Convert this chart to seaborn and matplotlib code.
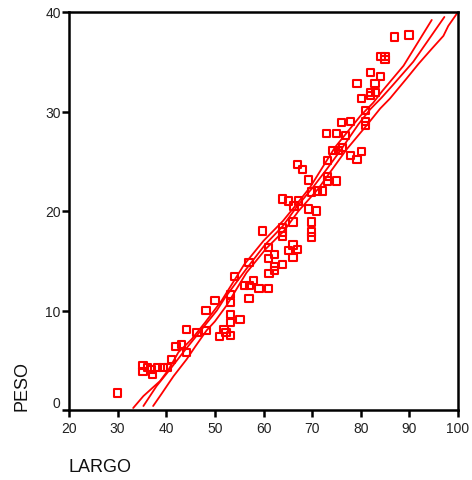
import matplotlib
matplotlib.use("Agg")
import matplotlib.pyplot as plt
import seaborn as sns
import pandas as pd

# ---- data ----
largo = [30.0, 35.2, 35.2, 36.2, 37.2, 37.0, 38.2, 39.3, 40.3, 41.1, 42.0, 43.2, 44.1, 44.1,
         46.3, 48.2, 48.2, 50.0, 50.9, 51.9, 52.3, 53.2, 53.2, 53.2, 53.2, 53.2, 55.2, 57.0,
         54.0, 56.1, 57.1, 58.0, 59.1, 57.0, 61.0, 61.0, 61.1, 62.2, 62.2, 62.2, 63.9, 59.8,
         61.0, 63.9, 63.9, 63.9, 65.1, 66.1, 67.0, 66.1, 66.1, 69.9, 69.9, 69.9, 63.9, 65.2,
         66.3, 67.2, 67.0, 68.0, 69.2, 69.2, 69.9, 70.9, 71.1, 72.2, 73.1, 73.1, 73.1, 75.0,
         74.3, 75.4, 77.9, 79.2, 80.1, 76.2, 73.0, 75.0, 76.9, 76.1, 77.9, 81.0, 81.0, 81.0,
         80.1, 82.0, 82.0, 83.1, 79.2, 82.9, 82.0, 84.0, 84.2, 85.0, 85.0, 87.0, 89.9]
peso = [1.7, 4.5, 3.9, 4.3, 3.6, 4.1, 4.3, 4.3, 4.3, 5.1, 6.4, 6.6, 5.8, 8.1,
        7.8, 8.0, 10.0, 11.0, 7.4, 8.1, 7.8, 7.5, 8.8, 9.6, 10.8, 11.6, 9.1, 11.2,
        13.4, 12.5, 12.5, 13.0, 12.2, 14.8, 12.2, 15.2, 13.7, 15.6, 14.4, 14.0, 14.6, 18.0,
        16.3, 17.5, 17.9, 18.3, 16.0, 16.6, 16.1, 15.3, 18.9, 18.9, 17.9, 17.4, 21.2, 21.0,
        20.5, 21.0, 24.7, 24.2, 20.2, 23.1, 21.9, 20.0, 22.0, 22.0, 25.1, 23.0, 23.5, 23.0,
        26.1, 26.1, 25.6, 25.2, 26.0, 26.4, 27.8, 27.8, 27.6, 28.9, 29.0, 28.6, 29.0, 30.1,
        31.3, 31.6, 31.9, 31.9, 32.8, 32.8, 33.9, 33.5, 35.5, 35.5, 35.2, 37.5, 37.7]

fit_x = [35.3, 38.0, 40.8, 43.5, 46.3, 50.4, 52.1, 56.5, 60.3, 64.0, 66.8, 70.2, 73.0,
         75.7, 79.5, 81.9, 84.3, 86.5, 90.8, 97.2]
fit_y = [0.4, 2.4, 4.1, 5.8, 7.5, 10.0, 11.3, 14.2, 16.6, 18.5, 20.4, 22.4, 24.2,
         26.0, 28.7, 30.2, 31.4, 32.6, 35.0, 39.5]

upper_x = [33.2, 35.3, 38.7, 40.4, 42.5, 45.2, 48.0, 51.4, 56.0, 60.0, 64.0, 67.0,
           69.6, 74.7, 80.0, 82.6, 84.5, 88.8, 94.6]
upper_y = [0.2, 1.4, 2.9, 4.0, 5.8, 7.1, 8.8, 11.0, 14.6, 17.0, 19.0, 20.8,
           22.4, 26.4, 29.6, 30.9, 32.1, 34.6, 39.2]

lower_x = [37.3, 39.0, 40.8, 41.5, 44.2, 46.0, 48.3, 50.0, 52.4, 56.5, 60.5, 64.2, 67.2,
           71.2, 77.1, 81.2, 84.0, 86.0, 89.4, 91.9, 94.6, 97.0, 98.0, 100.0]
lower_y = [0.4, 1.6, 2.9, 3.4, 5.1, 6.4, 8.0, 8.9, 10.5, 13.8, 16.2, 18.0, 20.0,
           22.2, 26.2, 28.6, 30.3, 31.3, 33.3, 34.8, 36.3, 37.6, 38.6, 40.0]

x_ticks = [20, 30, 40, 50, 60, 70, 80, 90, 100]
y_ticks = [0, 10, 20, 30, 40]

# ---- figure ----
sns.set_style("white")
plt.rcParams["font.family"] = ["Liberation Sans", "DejaVu Sans"]

fig = plt.figure(figsize=(4.72, 4.81), dpi=100)
ax = fig.add_axes([69 / 472, 70 / 481, 389 / 472, 398 / 481])

red = "#ff0000"
for lx, ly in [(upper_x, upper_y), (fit_x, fit_y), (lower_x, lower_y)]:
    sns.lineplot(data=pd.DataFrame({"x": lx, "y": ly}), x="x", y="y", sort=False,
                 estimator=None, color=red, linewidth=1.3, ax=ax)

sns.scatterplot(data=pd.DataFrame({"LARGO": largo, "PESO": peso}), x="LARGO", y="PESO",
                marker="s", s=28, facecolor="none", edgecolor=red, linewidth=1.5, ax=ax,
                zorder=3, clip_on=False)

ax.set_xlim(20, 100)
ax.set_ylim(0, 40)
ax.set_xticks(x_ticks)
ax.set_yticks(y_ticks)
ax.set_xticklabels([str(t) for t in x_ticks])
ax.set_yticklabels([str(t) for t in y_ticks])

for sp in ax.spines.values():
    sp.set_visible(True)
    sp.set_color("black")
    sp.set_linewidth(1.8)

ax.tick_params(axis="both", which="both", direction="out", length=5, width=1.8,
               color="black", labelsize=10, labelcolor="#222222", pad=1,
               bottom=True, left=True, top=False, right=False)
ax.tick_params(axis="x", pad=3)

ax.get_yticklabels()[0].set_va("bottom")

ax.set_xlabel("LARGO", fontsize=13, loc="left", color="#111111")
ax.set_ylabel("PESO", fontsize=13, loc="bottom", color="#111111")
ax.xaxis.set_label_coords(0.0, -0.12)
ax.yaxis.set_label_coords(-0.10, 0.0)

fig.savefig("out.png", dpi=100)
